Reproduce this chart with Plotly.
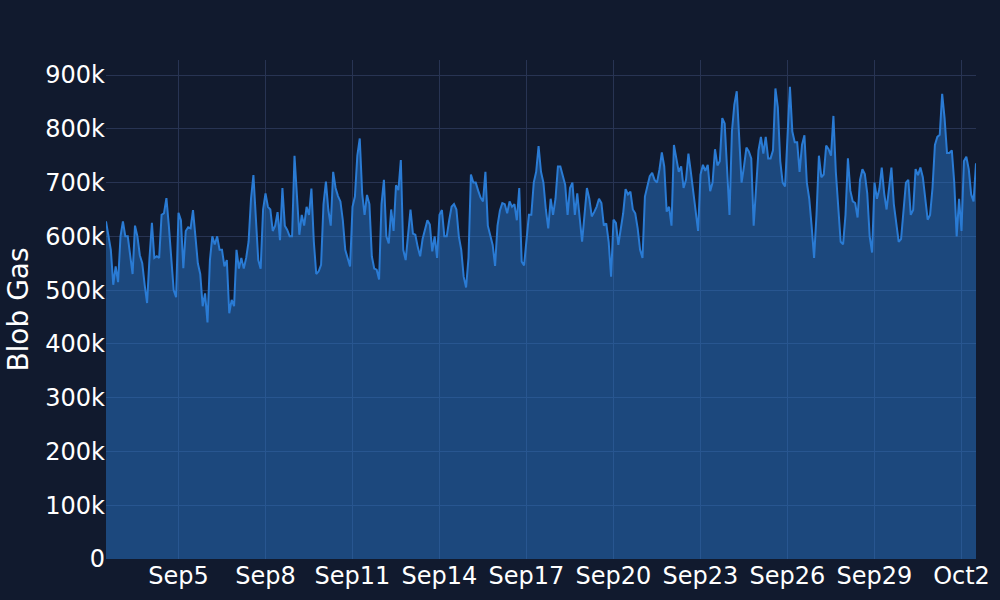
import pandas as pd
import plotly.graph_objects as go

start_time = "2024-09-02 12:00"
step = "2h"

blob_gas_k = [
    628, 600, 575, 510, 544, 515, 600, 628, 600, 600, 560, 530, 620, 600, 565, 550, 510, 476, 560, 625,
    560, 563, 560, 640, 643, 671, 620, 560, 500, 487, 644, 630, 541, 610, 617, 615, 649, 600, 550, 530,
    470, 494, 440, 556, 600, 585, 600, 575, 575, 544, 556, 457, 482, 470, 575, 540, 560, 540, 560, 590,
    670, 714, 640, 556, 540, 650, 680, 655, 650, 610, 620, 645, 593, 690, 620, 612, 600, 600, 750, 674,
    603, 640, 620, 655, 640, 689, 590, 530, 535, 547, 660, 702, 649, 620, 720, 690, 675, 665, 630, 575,
    560, 544, 655, 674, 750, 782, 680, 640, 677, 660, 563, 540, 538, 520, 660, 705, 600, 587, 650, 610,
    695, 686, 742, 575, 556, 600, 650, 605, 603, 580, 563, 595, 612, 630, 622, 572, 600, 560, 640, 649,
    600, 600, 630, 655, 660, 650, 600, 575, 525, 505, 560, 715, 700, 700, 685, 672, 665, 720, 620, 600,
    584, 545, 620, 648, 662, 660, 643, 665, 655, 660, 630, 690, 553, 546, 600, 640, 640, 700, 720, 768,
    720, 700, 650, 615, 670, 640, 670, 730, 730, 715, 696, 640, 690, 700, 640, 680, 630, 590, 640, 690,
    670, 637, 645, 655, 670, 662, 620, 624, 590, 525, 631, 625, 584, 615, 643, 688, 678, 683, 650, 643,
    615, 575, 560, 674, 695, 712, 718, 705, 700, 724, 756, 730, 646, 655, 620, 770, 745, 720, 730, 690,
    705, 754, 720, 680, 650, 610, 715, 733, 722, 733, 684, 700, 762, 732, 740, 820, 810, 714, 640, 795,
    845, 870, 795, 700, 730, 765, 758, 745, 620, 700, 760, 785, 754, 785, 745, 745, 760, 875, 840, 740,
    700, 693, 790, 878, 795, 775, 775, 720, 770, 788, 700, 670, 618, 560, 640, 750, 710, 715, 769, 762,
    750, 824, 720, 655, 590, 585, 640, 745, 685, 665, 662, 635, 705, 725, 716, 680, 600, 570, 700, 670,
    688, 728, 680, 650, 686, 728, 660, 626, 590, 595, 650, 700, 705, 640, 649, 725, 714, 728, 710, 670,
    631, 640, 690, 770, 785, 789, 865, 820, 755, 755, 760, 700, 600, 670, 610, 740, 748, 725, 678, 665,
    736,
]

y_title = "Blob Gas"

times = pd.date_range(start=start_time, periods=len(blob_gas_k), freq=step)
values = [v * 1000 for v in blob_gas_k]

BG = "#111a2e"
GRID = "#283453"
LINE = "#2a7bd4"
FILL = "rgba(42,123,212,0.48)"
FONT = "DejaVu Sans"

fig = go.Figure(
    go.Scatter(
        x=times,
        y=values,
        mode="lines",
        line=dict(color=LINE, width=2),
        fill="tozeroy",
        fillcolor=FILL,
    )
)

fig.update_layout(
    width=1000,
    height=600,
    paper_bgcolor=BG,
    plot_bgcolor=BG,
    margin=dict(l=106, r=24, t=60, b=41),
    showlegend=False,
    font=dict(family=FONT, color="white", size=24),
)

fig.update_xaxes(
    range=[times[0], times[-1]],
    tick0="2024-09-05",
    dtick=3 * 86400000,
    tickformat="%b%-d",
    showgrid=True,
    gridcolor=GRID,
    gridwidth=1,
    zeroline=False,
    showline=False,
    ticks="",
    automargin=False,
    tickfont=dict(family=FONT, size=24, color="white"),
)

fig.update_yaxes(
    range=[0, 928000],
    dtick=100000,
    tickformat="~s",
    showgrid=True,
    gridcolor=GRID,
    gridwidth=1,
    zeroline=False,
    showline=False,
    ticks="",
    automargin=False,
    title=dict(text=y_title, font=dict(family=FONT, size=28, color="white"), standoff=8),
    tickfont=dict(family=FONT, size=24, color="white"),
)

fig.write_html(
    "out.html",
    config={"displayModeBar": False},
    post_script="document.body.style.margin='0';document.body.style.background='" + BG + "';",
)
